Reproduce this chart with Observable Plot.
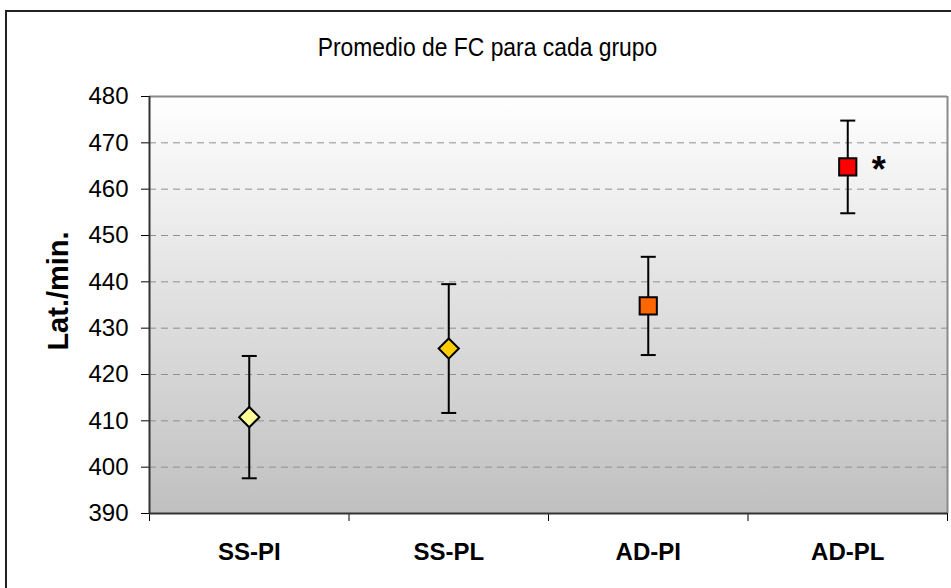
<!DOCTYPE html>
<html>
<head>
<meta charset="utf-8">
<script src="https://cdn.jsdelivr.net/npm/d3@7"></script>
<script src="https://cdn.jsdelivr.net/npm/@observablehq/plot@0.6"></script>
<style>
  body { margin: 0; background: #fff; }
  #chart { position: relative; width: 951px; height: 588px; overflow: hidden;
           font-family: "Liberation Sans", Arial, sans-serif; color: #000; }
  #frame { position: absolute; left: 5px; top: 10px; width: 1000px; height: 700px;
           border-left: 2px solid #222; border-top: 2px solid #222; }
  #title { position: absolute; left: 0; top: 34px; width: 975px; text-align: center;
           font-size: 26px; line-height: 1; transform: scaleX(0.88); transform-origin: 487.5px 0; }
  #plot { position: absolute; left: 0; top: 70px; }
</style>
</head>
<body>
<div id="chart">
  <div id="frame"></div>
  <div id="title">Promedio de FC para cada grupo</div>
  <div id="plot"></div>
</div>
<script>
// Heart-rate means (beats/min) and their error for each group
const groups = ["SS-PI", "SS-PL", "AD-PI", "AD-PL"];
const means = [410.8, 425.6, 434.8, 464.8];
const errors = [13.2, 13.9, 10.6, 10.0];
const notes = ["", "", "", "*"];
const yTicks = [390, 400, 410, 420, 430, 440, 450, 460, 470, 480];

// Marker styling per group
const shapes = ["diamond2", "diamond2", "square", "square"];
const colors = ["#ffff99", "#ffcc00", "#ff6600", "#ff0000"];

const rows = groups.map((g, i) => ({
  group: g,
  pos: i + 0.5,
  mean: means[i],
  low: means[i] - errors[i],
  high: means[i] + errors[i],
  shape: shapes[i],
  color: colors[i],
  note: notes[i]
}));

// Horizontal cap for the error bars
const cap = {
  draw(ctx, size) {
    const w = Math.sqrt(size / Math.PI);
    ctx.moveTo(-w, 0);
    ctx.lineTo(w, 0);
  }
};

const yMin = yTicks[0], yMax = yTicks[yTicks.length - 1];

const chart = Plot.plot({
  width: 951,
  height: 518,
  marginTop: 26,
  marginBottom: 75,
  marginLeft: 149,
  marginRight: 4,
  style: { fontFamily: '"Liberation Sans", Arial, sans-serif', color: "#000", background: "transparent", overflow: "visible" },
  x: { type: "linear", domain: [0, groups.length] },
  y: { domain: [yMin, yMax] },
  marks: [
    Plot.frame({ fill: "url(#plotBg)", stroke: null }),
    Plot.ruleY(yTicks.slice(1, -1), { stroke: "#8f8f8f", strokeWidth: 1, strokeDasharray: "7,5" }),
    Plot.ruleY([yMax], { stroke: "#8a8a8a", strokeWidth: 2 }),
    Plot.ruleX([groups.length], { stroke: "#8a8a8a", strokeWidth: 2 }),
    Plot.axisY({ ticks: yTicks, tickSize: 8, tickPadding: 13, fontSize: 24, label: null, strokeWidth: 1 }),
    Plot.axisX({ ticks: d3.range(0, groups.length + 1), tickSize: 8, tickFormat: () => "", label: null }),
    Plot.axisX({ ticks: rows.map(d => d.pos), tickFormat: v => groups[Math.floor(v)], tickSize: 0, tickPadding: 29,
                 fontSize: 24, fontWeight: "bold", label: null }),
    Plot.ruleX([0], { stroke: "#333", strokeWidth: 2 }),
    Plot.ruleY([yMin], { stroke: "#333", strokeWidth: 2 }),
    Plot.text(["Lat./min."], { frameAnchor: "left", textAnchor: "middle", rotate: -90, dx: -91, dy: -14,
             fontSize: 29, fontWeight: "bold" }),
    Plot.ruleX(rows, { x: "pos", y1: "low", y2: "high", stroke: "#000", strokeWidth: 2 }),
    Plot.dot(rows, { x: "pos", y: "high", symbol: cap, r: 7.5, stroke: "#000", strokeWidth: 2, fill: "none" }),
    Plot.dot(rows, { x: "pos", y: "low", symbol: cap, r: 7.5, stroke: "#000", strokeWidth: 2, fill: "none" }),
    Plot.dot(rows.filter(d => d.shape === "diamond2"), { x: "pos", y: "mean", symbol: "diamond2", r: 9.1,
             fill: "color", stroke: "#000", strokeWidth: 2 }),
    Plot.dot(rows.filter(d => d.shape === "square"), { x: "pos", y: "mean", symbol: "square", r: 9.7,
             fill: "color", stroke: "#000", strokeWidth: 2 }),
    Plot.text(rows.filter(d => d.note), { x: "pos", y: "mean", text: "note", dx: 31, dy: 4,
             fontSize: 36, fontWeight: "bold", textAnchor: "middle" })
  ]
});

// Vertical gradient for the plotting area
const defs = d3.create("svg:defs");
const grad = defs.append("linearGradient").attr("id", "plotBg")
  .attr("x1", 0).attr("y1", 0).attr("x2", 0).attr("y2", 1);
grad.append("stop").attr("offset", "0%").attr("stop-color", "#ffffff");
grad.append("stop").attr("offset", "100%").attr("stop-color", "#c0c0c0");
chart.insertBefore(defs.node(), chart.firstChild);

document.getElementById("plot").appendChild(chart);
</script>
</body>
</html>
